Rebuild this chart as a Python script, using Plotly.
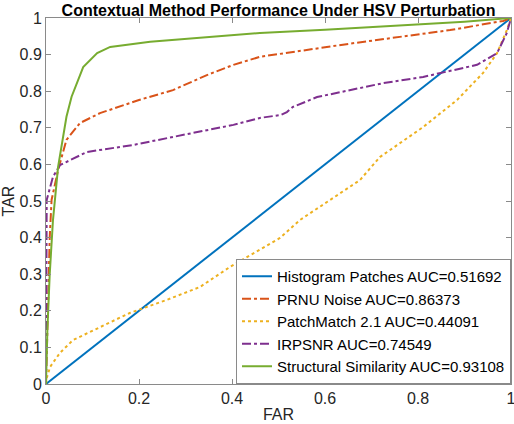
import plotly.graph_objects as go

# ROC curves (FAR on x, TAR on y)
hist_far = [0, 1]
hist_tar = [0, 1]

prnu_far = [0, 0.004, 0.008, 0.012, 0.026, 0.044, 0.073, 0.116, 0.2, 0.273, 0.346,
            0.403, 0.46, 0.654, 0.869, 0.983, 1.0]
prnu_tar = [0, 0.2, 0.4, 0.503, 0.585, 0.667, 0.713, 0.74, 0.776, 0.803, 0.844,
            0.872, 0.894, 0.93, 0.967, 0.992, 1.0]

pm_far = [0, 0.0015, 0.009, 0.03, 0.058, 0.116, 0.18, 0.26, 0.331, 0.396, 0.46,
          0.503, 0.546, 0.611, 0.675, 0.718, 0.811, 0.884, 0.94, 0.97, 0.991, 1.0]
pm_tar = [0, 0.016, 0.047, 0.085, 0.12, 0.156, 0.194, 0.23, 0.265, 0.32, 0.366,
          0.399, 0.448, 0.503, 0.557, 0.62, 0.702, 0.776, 0.85, 0.904, 0.967, 1.0]

irpsnr_far = [0, 0.0005, 0.0015, 0.015, 0.03, 0.088, 0.187, 0.273, 0.403, 0.46, 0.505,
              0.518, 0.531, 0.583, 0.725, 0.811, 0.927, 0.97, 0.991, 1.0]
irpsnr_tar = [0, 0.3, 0.503, 0.566, 0.598, 0.634, 0.653, 0.675, 0.708, 0.727, 0.735,
              0.743, 0.757, 0.784, 0.822, 0.839, 0.872, 0.904, 0.959, 1.0]

ssim_far = [0, 0.003, 0.008, 0.015, 0.026, 0.044, 0.055, 0.08, 0.11, 0.138, 0.224,
            0.331, 0.46, 0.6, 0.8, 0.9, 1.0]
ssim_tar = [0, 0.15, 0.3, 0.448, 0.593, 0.73, 0.785, 0.866, 0.904, 0.921, 0.935,
            0.945, 0.959, 0.968, 0.983, 0.99, 1.0]

names = ['Histogram Patches AUC=0.51692', 'PRNU Noise AUC=0.86373',
         'PatchMatch 2.1 AUC=0.44091', 'IRPSNR AUC=0.74549',
         'Structural Similarity AUC=0.93108']

# cores padrão do MATLAB
curvas = [
    (hist_far, hist_tar, '#0072BD', 'solid'),
    (prnu_far, prnu_tar, '#D95319', 'dashdot'),
    (pm_far, pm_tar, '#EDB120', 'dot'),
    (irpsnr_far, irpsnr_tar, '#7E2F8E', 'dashdot'),
    (ssim_far, ssim_tar, '#77AC30', 'solid'),
]

fig = go.Figure()
for nome, (x, y, cor, estilo) in zip(names, curvas):
    fig.add_trace(go.Scatter(
        x=x, y=y, mode='lines', name=nome,
        line=dict(color=cor, width=2, dash=estilo)
    ))

eixo = dict(
    range=[0, 1], dtick=0.1, showgrid=False, zeroline=False, automargin=False,
    showline=True, linecolor='#8a8a8a', linewidth=1, mirror='ticks',
    ticks='inside', ticklen=5, tickcolor='#8a8a8a', ticklabeloverflow='allow',
    tickfont=dict(size=16, color='#262626'),
)

fig.update_layout(
    width=514, height=424,
    margin=dict(l=46, r=3, t=18, b=40),
    paper_bgcolor='white', plot_bgcolor='white',
    font=dict(family='Liberation Sans, Arial, sans-serif', color='#262626'),
    title=dict(text='<b>Contextual Method Performance Under HSV Perturbation</b>',
               x=0.5, xref='paper', xanchor='center',
               yref='container', y=0.976, yanchor='middle',
               font=dict(size=16, color='black')),
    xaxis=dict(eixo, dtick=0.2,
               title=dict(text='FAR', font=dict(size=16), standoff=2)),
    yaxis=dict(eixo,
               title=dict(text='TAR', font=dict(size=16), standoff=0)),
    legend=dict(x=1, xanchor='right', y=0, yanchor='bottom',
                bgcolor='white', bordercolor='#8a8a8a', borderwidth=1,
                font=dict(size=15, color='black'), tracegroupgap=0),
    showlegend=True,
)

# tira a margem padrão do <body> para a figura ocupar a janela toda
fig.write_html("out.html", config={'displayModeBar': False},
               post_script="document.body.style.margin='0';document.body.style.overflow='hidden';")
